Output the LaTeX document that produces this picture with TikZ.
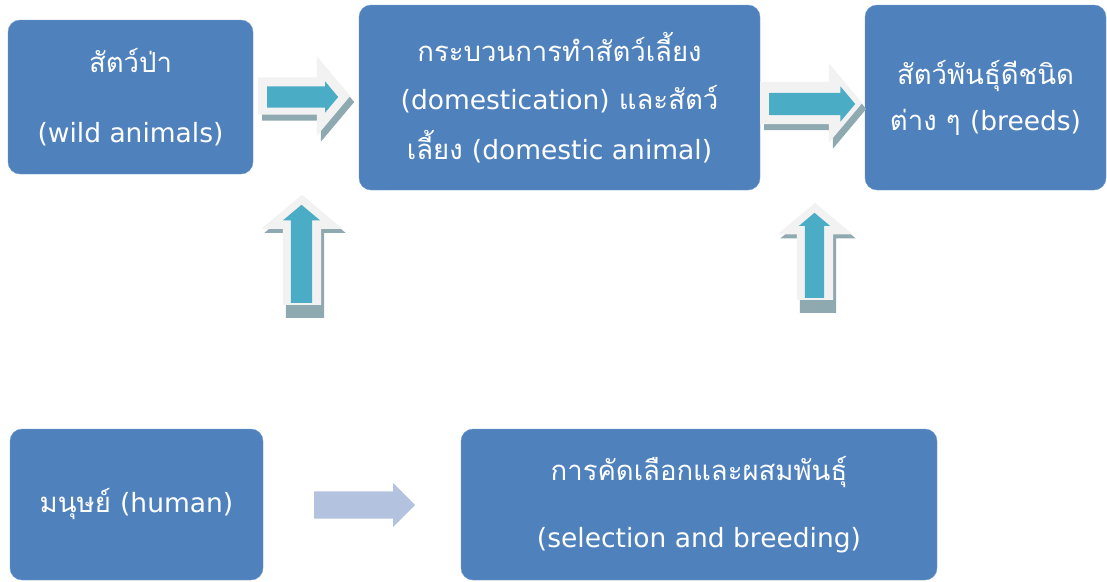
\documentclass[tikz,border=0pt]{standalone}
\usepackage{fontspec}
\newfontfamily\thaifont[Script=Thai]{Loma}
\newfontfamily\latinfont{DejaVu Sans}
\newcommand\lat[1]{{\latinfont\fontsize{26.5}{32}\selectfont #1}}
\usetikzlibrary{shapes.arrows}

\definecolor{boxblue}{HTML}{4F81BD}
\definecolor{arrowlight}{HTML}{F2F2F2}
\definecolor{arrowteal}{HTML}{4BACC6}
\definecolor{arrowshade}{HTML}{8FA9B1}
\definecolor{arrowpale}{HTML}{B3C3DF}

\tikzset{
	box/.style={rectangle, rounded corners=12pt, fill=boxblue, draw=boxblue!80!white,
		text=white, align=center, inner sep=0pt, font=\thaifont\fontsize{27.5}{32}\selectfont},
	blockarrow/.style={single arrow, anchor=tail, inner xsep=0pt, text height=0pt, text depth=0pt,
		single arrow tip angle=100},
	outerarrow/.style={blockarrow, fill=arrowlight},
	innerarrow/.style={blockarrow, fill=arrowteal},
	shadearrow/.style={blockarrow, fill=arrowshade},
}

\begin{document}
\begin{tikzpicture}[x=1pt, y=-1pt]
	\useasboundingbox (0,0) rectangle (1107,581);

	% boxes
	\node[box, minimum width=245pt, minimum height=154pt] (wild) at (130.5,97)
		{สัตว์ป่า\\[38pt]\lat{(wild animals)}};
	\node[box, minimum width=401pt, minimum height=185pt] (domestic) at (559.5,97.5)
		{กระบวนการทำสัตว์เลี้ยง\\[16pt]\lat{(domestication)} และสัตว์\\[16pt]เลี้ยง \lat{(domestic animal)}};
	\node[box, minimum width=241pt, minimum height=185pt] (breeds) at (985.5,97.5)
		{สัตว์พันธุ์ดีชนิด\\[14pt]ต่าง ๆ \lat{(breeds)}};
	\node[box, minimum width=253pt, minimum height=151pt] (human) at (136.5,504.5)
		{มนุษย์ \lat{(human)}};
	\node[box, minimum width=476pt, minimum height=151pt] (selection) at (699,504.5)
		{การคัดเลือกและผสมพันธุ์\\[35pt]\lat{(selection and breeding)}};

	% wild -> domestic
	\node[shadearrow, minimum height=92pt, inner ysep=18.5pt, single arrow head extend=21pt] at (262,102) {};
	\node[outerarrow, minimum height=92pt, inner ysep=18.5pt, single arrow head extend=21pt] (wildarrow) at (258,96) {};
	\node[innerarrow, minimum height=71pt, inner ysep=10.5pt, single arrow head extend=5pt] (wildarrowin) at (267,97) {};

	% domestic -> breeds
	\node[shadearrow, minimum height=102pt, inner ysep=21pt, single arrow head extend=18.5pt] at (764,109) {};
	\node[outerarrow, minimum height=102pt, inner ysep=21pt, single arrow head extend=18.5pt] (breedarrow) at (760,103) {};
	\node[innerarrow, minimum height=86pt, inner ysep=11pt, single arrow head extend=6.5pt] (breedarrowin) at (769,104) {};

	% up into domestic
	\node[shadearrow, rotate=90, minimum height=119pt, inner ysep=19pt, single arrow head extend=21.5pt] at (305,318) {};
	\node[outerarrow, rotate=90, minimum height=110pt, inner ysep=19pt, single arrow head extend=21.5pt] (uparrow) at (302,305) {};
	\node[innerarrow, rotate=90, minimum height=98pt, inner ysep=10.5pt, single arrow head extend=8pt] (uparrowin) at (301.5,303) {};

	% up into breeds
	\node[shadearrow, rotate=90, minimum height=106pt, inner ysep=18pt, single arrow head extend=19.5pt] at (818,313) {};
	\node[outerarrow, rotate=90, minimum height=97pt, inner ysep=18pt, single arrow head extend=19.5pt] (uparrowb) at (815,300) {};
	\node[innerarrow, rotate=90, minimum height=85pt, inner ysep=9.5pt, single arrow head extend=6pt] (uparrowbin) at (814.5,298) {};

	% human -> selection
	\node[blockarrow, fill=arrowpale, single arrow tip angle=90, minimum height=101pt, inner ysep=13.5pt, single arrow head extend=8.5pt] (humanarrow) at (314,505) {};
\end{tikzpicture}
\end{document}
